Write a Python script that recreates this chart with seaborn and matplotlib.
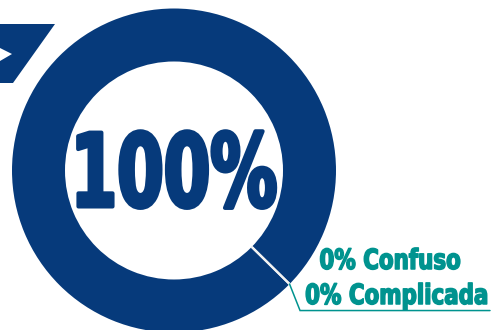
import numpy as np
import matplotlib
matplotlib.use("Agg")
import matplotlib.pyplot as plt
import seaborn as sns
from matplotlib.patches import Polygon
from matplotlib.path import Path
from matplotlib.patheffects import AbstractPathEffect
from matplotlib.transforms import Affine2D

# Survey shares
categories = ["Claro", "Confuso", "Complicada"]
shares = [100, 0, 0]

NAVY = "#063a7b"
TEAL = "#00938f"

sns.set_style("white")
plt.rcParams["font.family"] = ["DejaVu Sans"]


class Condensed(AbstractPathEffect):
    """Narrow glyphs horizontally and thicken them with an outline of the fill colour."""

    def __init__(self, squeeze, stroke=0.0, anchor="center"):
        super().__init__()
        self.squeeze = squeeze
        self.stroke = stroke
        self.anchor = anchor

    def draw_path(self, renderer, gc, tpath, affine, rgbFace=None):
        verts = tpath.vertices
        if tpath.codes is not None:
            verts = verts[tpath.codes != Path.CLOSEPOLY]
        if len(verts) == 0:
            return
        xs = verts[:, 0]
        if self.anchor == "left":
            x0 = xs.min()
        elif self.anchor == "right":
            x0 = xs.max()
        else:
            x0 = 0.5 * (xs.min() + xs.max())
        aff = Affine2D().translate(-x0, 0).scale(self.squeeze, 1.0).translate(x0, 0) + affine
        gc0 = renderer.new_gc()
        gc0.copy_properties(gc)
        if self.stroke > 0:
            gc0.set_linewidth(self.stroke)
            gc0.set_foreground(rgbFace)
            gc0.set_joinstyle("round")
        renderer.draw_path(gc0, tpath, aff, rgbFace)
        gc0.restore()


W, H = 495, 330
fig = plt.figure(figsize=(W / 100, H / 100), dpi=100)
ax = fig.add_axes([0, 0, 1, 1])

center = (174.0, 159.5)
outer_r, ring_w = 162.0, 53.0

colors = [NAVY] + [TEAL] * (len(shares) - 1)
wedges, _ = ax.pie(
    shares,
    colors=colors,
    radius=outer_r,
    center=center,
    startangle=-44.5,
    counterclock=True,
    wedgeprops=dict(width=ring_w),
)
wedges[0].set_linewidth(0)
wedges[0].set_edgecolor(NAVY)
for w in wedges[1:]:
    w.set_edgecolor("#f2f2f2")
    w.set_linewidth(1.6)

ax.set_xlim(0, W)
ax.set_ylim(0, H)
ax.set_aspect("equal")
ax.axis("off")

# Main share in the hole
ax.text(center[0] - 1.5, 123.5, f"{shares[0]:.0f}%", ha="center", va="baseline",
        fontsize=73, fontweight="bold", color=NAVY,
        path_effects=[Condensed(0.66, stroke=2.9, anchor="center")])

# Leader from the ring boundary of the empty segments to their labels
theta = np.deg2rad(wedges[1].theta1)
start = (center[0] + outer_r * np.cos(theta), center[1] + outer_r * np.sin(theta))
elbow = (start[0] + 10.5, start[1] - 26.5)
end = (490.0, elbow[1])
ax.plot([start[0], elbow[0], end[0]], [start[1], elbow[1], end[1]],
        color=TEAL, lw=1.1, solid_joinstyle="miter")

label_pos = [(461.0, 61.0), (489.0, 26.0)]
for (x, y), cat, val in zip(label_pos, categories[1:], shares[1:]):
    ax.text(x, y, f"{val:.0f}% {cat}", ha="right", va="baseline",
            fontsize=20, fontweight="bold", color=TEAL,
            path_effects=[Condensed(0.77, stroke=1.1, anchor="right")])

# Corner badge with arrow notch
ax.add_patch(Polygon([(0, 306), (55, 306), (13, 247), (0, 247)],
                     closed=True, facecolor=NAVY, edgecolor="none"))
ax.add_patch(Polygon([(0, 282), (12, 276), (0, 269)],
                     closed=True, facecolor="white", edgecolor="none"))

fig.savefig("out.png", dpi=100, facecolor="white")
